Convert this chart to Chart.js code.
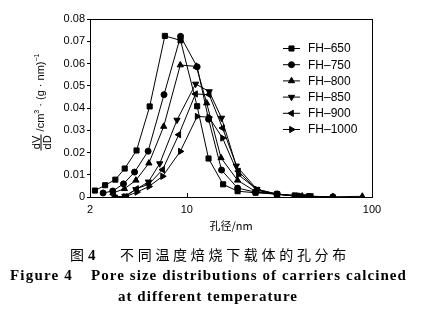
<!DOCTYPE html>
<html><head><meta charset="utf-8">
<script src="https://cdn.jsdelivr.net/npm/chart.js@4/dist/chart.umd.min.js"></script>
<style>
html,body{margin:0;padding:0;background:#fff;width:428px;height:335px;overflow:hidden;}
#wrap{position:relative;width:428px;height:335px;}
#c{position:absolute;left:0;top:0;}
.ytitle{position:absolute;left:41px;top:102px;transform:translate(-50%,-50%) rotate(-90deg);white-space:nowrap;font-family:"Liberation Sans",Arial,sans-serif;font-size:11px;color:#000;line-height:11px;}
.frac{display:inline-block;vertical-align:middle;text-align:center;margin-right:3px;}
.frac span{display:block;line-height:10px;padding:0 1px;}
.frac .num{border-bottom:1px solid #000;}
.ytitle sup{font-size:7px;vertical-align:5px;line-height:0;}
.cap{position:absolute;white-space:nowrap;color:#000;}
.zh{font-family:"Noto Sans CJK SC",sans-serif;font-size:14px;line-height:16px;}
.en{font-family:"Liberation Serif","Times New Roman",serif;font-weight:bold;font-size:15px;line-height:16px;}
</style></head>
<body><div id="wrap">
<canvas id="c" width="428" height="235"></canvas>
<div class="ytitle"><span class="frac"><span class="num">dV</span><span>dD</span></span>/cm<sup>3</sup> · (g · nm)<sup>−1</sup></div>
<div class="cap zh" style="left:70px;top:246px;">图</div>
<div class="cap en" style="left:88px;top:247px;">4</div>
<div class="cap zh" id="zhcap" style="left:120px;top:246px;">不同温度焙烧下载体的孔分布</div>
<div class="cap en" id="en1" style="left:10px;top:267px;">Figure 4</div>
<div class="cap en" id="en2" style="left:91px;top:267px;">Pore size distributions of carriers calcined</div>
<div class="cap en" id="en3" style="left:118px;top:288px;">at different temperature</div>
</div>
<script>
// ---- data (pore diameter in nm, dV/dD in cm3/(g·nm)) ----
const seriesNames = ['FH–650','FH–750','FH–800','FH–850','FH–900','FH–1000'];
const d650 = [3.19,3.62,4.11,4.62,5.35,6.30,7.61,9.25,11.37,13.1,15.7,18.8,23.5,30.7,38.3,45.8];
const v650 = [0.0029,0.0053,0.0078,0.0128,0.0209,0.0407,0.0724,0.0704,0.0408,0.0173,0.0057,0.0026,0.0019,0.0013,0.0007,0.0004];
const d750 = [3.53,3.98,4.55,5.22,6.18,7.53,9.25,11.37,13.1,15.4,18.8,23.5,30.7,39.9,61.5];
const v750 = [0.0018,0.0027,0.0059,0.0112,0.0206,0.0460,0.0722,0.0585,0.0350,0.0121,0.0040,0.0022,0.0013,0.0004,0.0001];
const d800 = [3.99,4.60,5.31,6.24,7.50,9.22,11.25,12.8,15.3,18.8,23.5,30.7,42.0,61.5,88.6];
const v800 = [0.0018,0.0037,0.0075,0.0152,0.0317,0.0593,0.0587,0.0422,0.0176,0.0075,0.0025,0.0012,0.0004,0.0001,0.0003];
const d850 = [4.07,4.63,5.31,6.20,7.14,8.85,11.16,13.2,15.4,18.5,23.9,30.7,38.3,43.4];
const v850 = [0.0000,0.0004,0.0034,0.0068,0.0150,0.0346,0.0508,0.0474,0.0355,0.0140,0.0035,0.0013,0.0004,0.0002];
const d900 = [4.66,5.35,6.24,7.40,9.05,11.14,13.2,15.6,19.0,23.9,30.7,40.0,47.0];
const v900 = [0.0002,0.0037,0.0058,0.0123,0.0280,0.0463,0.0460,0.0310,0.0116,0.0030,0.0012,0.0004,0.0002];
const d1000 = [4.11,4.66,5.37,6.24,7.40,9.22,11.37,13.15,15.6,19.0,23.9,30.7,38.3,45.8];
const v1000 = [0.0000,0.0001,0.0022,0.0047,0.0093,0.0205,0.0362,0.0359,0.0265,0.0100,0.0034,0.0013,0.0004,0.0002];
const xTickValues = [3,10,100];
const xTickLabels = ['2','10','100'];
const yTickStep = 0.01;

// ---- fit caption widths ----
function fitWidth(id, target){
  const el=document.getElementById(id);
  const w=el.getBoundingClientRect().width;
  const n=el.textContent.length;
  el.style.letterSpacing=((target-w)/n)+'px';
}
fitWidth('zhcap',230);
fitWidth('en1',63);
fitWidth('en2',316);
fitWidth('en3',180);

const pairs=(d,v)=>d.map((x,i)=>({x:x,y:v[i]}));
const styles=[
  {pointStyle:'rect',rotation:0,r:3.6},
  {pointStyle:'circle',rotation:0,r:3},
  {pointStyle:'triangle',rotation:0,r:3.6},
  {pointStyle:'triangle',rotation:180,r:3.6},
  {pointStyle:'triangle',rotation:270,r:3.6},
  {pointStyle:'triangle',rotation:90,r:3.6}
];
const allD=[d650,d750,d800,d850,d900,d1000];
const allV=[v650,v750,v800,v850,v900,v1000];
const datasets=seriesNames.map((name,i)=>({
  label:name,
  data:pairs(allD[i],allV[i]),
  borderColor:'#000',backgroundColor:'#000',borderWidth:1,
  pointStyle:styles[i].pointStyle,pointRotation:styles[i].rotation,
  pointRadius:styles[i].r,pointBorderWidth:1,pointBackgroundColor:'#000',pointBorderColor:'#000',
  tension:0,fill:false
}));

const framePlugin={
  id:'frame',
  afterDraw(chart){
    const {ctx,chartArea:a}=chart;
    const xs=chart.scales.x;
    ctx.save();
    ctx.strokeStyle='#000';ctx.lineWidth=1;
    ctx.strokeRect(Math.round(a.left)+0.5,Math.round(a.top)+0.5,Math.round(a.right-a.left),Math.round(a.bottom-a.top));
    xs.ticks.forEach(t=>{
      const px=Math.round(xs.getPixelForValue(t.value))+0.5;
      ctx.beginPath();ctx.moveTo(px,a.bottom);ctx.lineTo(px,a.bottom-4);ctx.stroke();
    });
    // legend
    ctx.font='12px "Liberation Sans", Arial, sans-serif';
    ctx.textBaseline='middle';ctx.textAlign='left';ctx.fillStyle='#000';
    chart.data.datasets.forEach((ds,i)=>{
      const y=48.5+i*16.2;
      ctx.beginPath();ctx.moveTo(283,y);ctx.lineTo(300,y);ctx.stroke();
      Chart.helpers.drawPoint(ctx,{pointStyle:ds.pointStyle,rotation:ds.pointRotation,radius:ds.pointRadius,borderWidth:1},291.5,y);
      ctx.fillText(ds.label,308,y+0.5);
    });
    ctx.restore();
  }
};

new Chart(document.getElementById('c'),{
  type:'line',
  data:{datasets:datasets},
  options:{
    responsive:false,animation:false,devicePixelRatio:1,
    layout:{padding:{left:0,top:19,right:56,bottom:0}},
    plugins:{legend:{display:false},tooltip:{enabled:false}},
    scales:{
      x:{type:'logarithmic',min:3,max:100,
        afterBuildTicks(s){s.ticks=xTickValues.map(v=>({value:v}));},
        afterFit(s){s.height=38;},
        ticks:{autoSkip:false,maxRotation:0,padding:6,color:'#000',
          font:{family:'"Liberation Sans", Arial, sans-serif',size:11},
          callback(v){const i=xTickValues.indexOf(v);return i>=0?xTickLabels[i]:'';}},
        grid:{drawOnChartArea:false,drawTicks:false,color:'#000'},
        border:{color:'#000'},
        title:{display:true,text:'孔径/nm',color:'#000',padding:{top:0,bottom:3},
          font:{family:'"Noto Sans CJK SC", sans-serif',size:11}}
      },
      y:{min:0,max:0.08,
        afterFit(s){s.width=90;},
        ticks:{stepSize:yTickStep,color:'#000',padding:2,
          font:{family:'"Liberation Sans", Arial, sans-serif',size:11},
          callback(v){return v===0?'0':v.toFixed(2);}},
        grid:{drawOnChartArea:false,drawTicks:true,tickLength:3,color:'#000'},
        border:{color:'#000'}
      }
    }
  },
  plugins:[framePlugin]
});
</script>
</body></html>
